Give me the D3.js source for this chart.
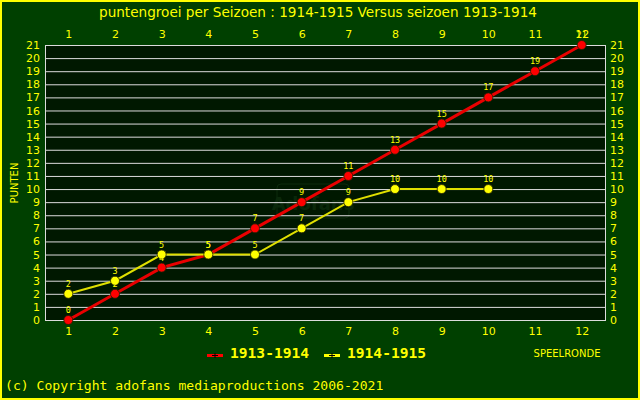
<!DOCTYPE html>
<html><head><meta charset="utf-8">
<script src="https://cdn.jsdelivr.net/npm/d3@7"></script>
<style>body{margin:0;background:#004000}svg{display:block}</style>
</head><body>
<script>
const rounds = [1,2,3,4,5,6,7,8,9,10,11,12];
const yTicks = d3.range(0,22);
const series1913 = [0,2,4,5,7,9,11,13,15,17,19,21];
const series1914 = [2,3,5,5,5,7,9,10,10,10];
const title = "puntengroei per Seizoen : 1914-1915 Versus seizoen 1913-1914";
const W=640,H=400;
const svg=d3.select("body").append("svg").attr("width",W).attr("height",H);
svg.append("rect").attr("x",1).attr("y",1).attr("width",W-2).attr("height",H-2).attr("fill","#004000").attr("stroke","#ffff00").attr("stroke-width",2);
const L=45,R=605,T=45,B=320;
const x=d3.scaleLinear().domain([0.5,12.5]).range([L,R]);
const y=d3.scaleLinear().domain([0,21]).range([B,T]);
svg.append("rect").attr("x",L).attr("y",T).attr("width",R-L).attr("height",B-T).attr("fill","#001800");
// watermark
svg.append("rect").attr("x",277).attr("y",184).attr("width",72).attr("height",34).attr("rx",4).attr("fill","none").attr("stroke","#0c2a0c").attr("stroke-width",1);
svg.append("text").attr("x",313).attr("y",210).attr("text-anchor","middle").attr("font-family","DejaVu Sans").attr("font-weight","bold").attr("font-size",18).attr("fill","#0a280a").text("Adofans");
// grid
svg.append("g").selectAll("line").data(yTicks).join("line").attr("x1",L).attr("x2",R).attr("y1",d=>y(d)+0.5).attr("y2",d=>y(d)+0.5).attr("stroke","#dcdcdc").attr("stroke-width",1);
svg.append("line").attr("x1",L+0.5).attr("x2",L+0.5).attr("y1",T).attr("y2",B).attr("stroke","#dcdcdc");
svg.append("line").attr("x1",R+0.5).attr("x2",R+0.5).attr("y1",T).attr("y2",B+1).attr("stroke","#dcdcdc");
const fnt="DejaVu Sans";
// axis labels
const axL=d3.axisLeft(y).tickValues(yTicks).tickSize(0).tickPadding(5);
const axR=d3.axisRight(y).tickValues(yTicks).tickSize(0).tickPadding(5);
const axB=d3.axisBottom(x).tickValues(rounds).tickSize(0).tickPadding(7);
const axT=d3.axisTop(x).tickValues(rounds).tickSize(0).tickPadding(6);
function style(g){g.select(".domain").remove();g.selectAll("text").attr("fill","#ffff00").attr("font-family",fnt).attr("font-size",11);}
svg.append("g").attr("transform",`translate(${L},0)`).call(axL).call(style);
svg.append("g").attr("transform",`translate(${R},0)`).call(axR).call(style);
svg.append("g").attr("transform",`translate(0,${B})`).call(axB).call(style);
svg.append("g").attr("transform",`translate(0,${T-1})`).call(axT).call(style);
// title
svg.append("text").attr("x",318).attr("y",17).attr("text-anchor","middle").attr("font-family",fnt).attr("font-size",13.6).attr("fill","#ffff00").text(title);
svg.append("text").attr("transform","translate(18,183) rotate(-90)").attr("text-anchor","middle").attr("font-family",fnt).attr("font-size",10).attr("fill","#ffff00").text("PUNTEN");
svg.append("text").attr("x",567).attr("y",357).attr("text-anchor","middle").attr("font-family",fnt).attr("font-size",10).attr("fill","#ffff00").text("SPEELRONDE");
svg.append("text").attr("x",5).attr("y",390).attr("font-family","DejaVu Sans Mono").attr("font-size",13.1).attr("fill","#ffff00").text("(c) Copyright adofans mediaproductions 2006-2021");
// series
const line=d3.line().x((d,i)=>x(rounds[i])).y(d=>y(d));
function drawSeries(data,color,lw){
  svg.append("path").datum(data).attr("d",line).attr("fill","none").attr("stroke",color).attr("stroke-width",lw);
}
function drawPts(data,color){
  svg.append("g").selectAll("circle").data(data).join("circle").attr("cx",(d,i)=>x(rounds[i])).attr("cy",d=>y(d)).attr("r",4.5).attr("fill",color).attr("stroke","#202000").attr("stroke-width",0.8);
}
function drawLbl(data){
  svg.append("g").selectAll("text").data(data).join("text").attr("x",(d,i)=>x(rounds[i])).attr("y",d=>y(d)-7).attr("text-anchor","middle").attr("font-family","DejaVu Sans Mono").attr("font-size",8.5).attr("fill","#ffff00").text(d=>d);
}
drawSeries(series1913,"#e80000",3);
drawPts(series1913,"#ff0000");
drawSeries(series1914,"#e0e000",2);
drawPts(series1914,"#ffff00");
drawLbl(series1913);
drawLbl(series1914);
// legend
function legMark(cx,color){
  svg.append("rect").attr("x",cx-8).attr("y",354).attr("width",16).attr("height",3).attr("fill",color);
  svg.append("path").attr("d",`M${cx-3},355.5 L${cx+3},355.5 M${cx},353 L${cx},358`).attr("stroke","#000").attr("stroke-width",1);
}
legMark(215,"#ff0000");
legMark(332,"#ffff00");
svg.append("text").attr("x",230).attr("y",358).attr("font-family","DejaVu Sans Mono").attr("font-weight","bold").attr("font-size",14.6).attr("fill","#ffff00").text("1913-1914");
svg.append("text").attr("x",347).attr("y",358).attr("font-family","DejaVu Sans Mono").attr("font-weight","bold").attr("font-size",14.6).attr("fill","#ffff00").text("1914-1915");
</script>
</body></html>
